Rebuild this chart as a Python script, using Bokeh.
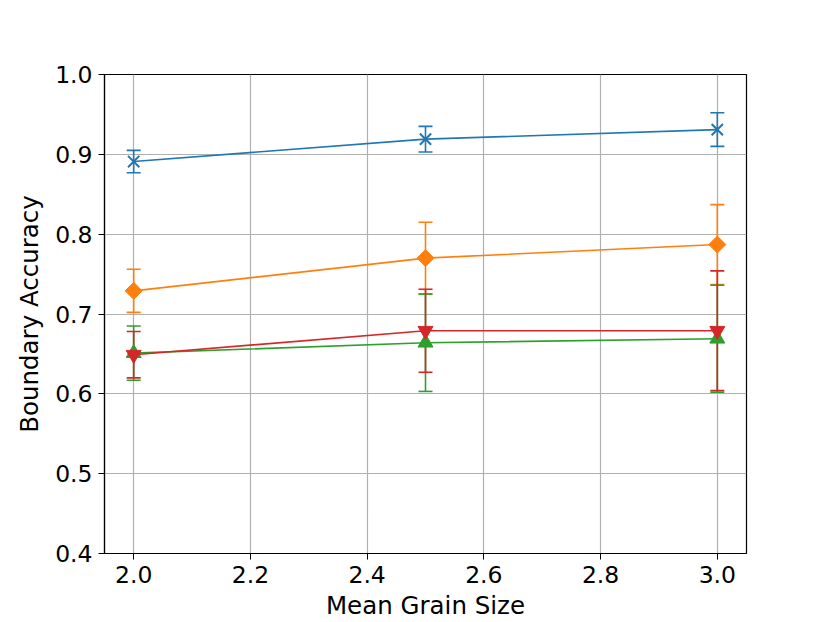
import numpy as np
from bokeh.plotting import figure
from bokeh.models import ColumnDataSource, Whisker, TeeHead, FixedTicker, Range1d, PrintfTickFormatter
from bokeh.embed import file_html
from bokeh.resources import INLINE

grain_size = [2.0, 2.5, 3.0]

blue_mean = [0.891, 0.919, 0.931]
blue_err = [0.014, 0.016, 0.021]
orange_mean = [0.729, 0.770, 0.787]
orange_err = [0.027, 0.045, 0.050]
green_mean = [0.651, 0.664, 0.669]
green_err = [0.034, 0.061, 0.067]
red_mean = [0.649, 0.679, 0.679]
red_err = [0.029, 0.052, 0.075]

x_ticks = [2.0, 2.2, 2.4, 2.6, 2.8, 3.0]
y_ticks = [0.4, 0.5, 0.6, 0.7, 0.8, 0.9, 1.0]

FONT = "DejaVu Sans"

p = figure(width=830, height=622, output_backend="svg", toolbar_location=None,
           x_range=Range1d(1.95, 3.05), y_range=Range1d(0.4, 1.0),
           min_border_left=104, min_border_right=84, min_border_top=74, min_border_bottom=69)
p.outline_line_color = "black"
p.outline_line_width = 1.2

for ax in (p.xaxis, p.yaxis):
    ax.major_label_text_font = FONT
    ax.major_label_text_font_size = "23.5px"
    ax.major_label_text_color = "black"
    ax.axis_label_text_font = FONT
    ax.axis_label_text_font_size = "24.5px"
    ax.axis_label_text_font_style = "normal"
    ax.axis_label_text_color = "black"
    ax.major_tick_out = 6
    ax.major_tick_in = 0
    ax.minor_tick_line_color = None
    ax.axis_line_color = "black"
    ax.major_tick_line_color = "black"
    ax.axis_line_width = 1.2
    ax.major_label_standoff = 6
    ax.formatter = PrintfTickFormatter(format="%.1f")

p.xaxis.ticker = FixedTicker(ticks=x_ticks)
p.yaxis.ticker = FixedTicker(ticks=y_ticks)
p.xaxis.axis_label = "Mean Grain Size"
p.yaxis.axis_label = "Boundary Accuracy"
p.xaxis.axis_label_standoff = 5
p.yaxis.axis_label_standoff = 8

p.xgrid.ticker = FixedTicker(ticks=x_ticks)
p.ygrid.ticker = FixedTicker(ticks=y_ticks)
p.grid.grid_line_color = "#b0b0b0"
p.grid.grid_line_width = 1.2

series = [
    (blue_mean, blue_err, "#1f77b4", "x", 16, 0.0),
    (orange_mean, orange_err, "#ff7f0e", "square", 12, np.pi / 4),
    (green_mean, green_err, "#2ca02c", "triangle", 15, 0.0),
    (red_mean, red_err, "#d62728", "inverted_triangle", 15, 0.0),
]

for mean, err, color, marker, size, angle in series:
    m = np.array(mean)
    e = np.array(err)
    src = ColumnDataSource(dict(x=grain_size, y=mean, lo=list(m - e), hi=list(m + e)))
    w = Whisker(base="x", upper="hi", lower="lo", source=src, dimension="height",
                line_color=color, line_width=1.6,
                upper_head=TeeHead(size=14, line_color=color, line_width=1.6),
                lower_head=TeeHead(size=14, line_color=color, line_width=1.6))
    p.add_layout(w)
    p.line("x", "y", source=src, line_color=color, line_width=1.6)
    if marker == "x":
        p.scatter("x", "y", source=src, marker="x", size=size, line_color=color, line_width=2)
    else:
        p.scatter("x", "y", source=src, marker=marker, size=size, angle=angle,
                  fill_color=color, line_color=color, line_width=1)

open("out.html", "w").write(file_html(p, INLINE))
